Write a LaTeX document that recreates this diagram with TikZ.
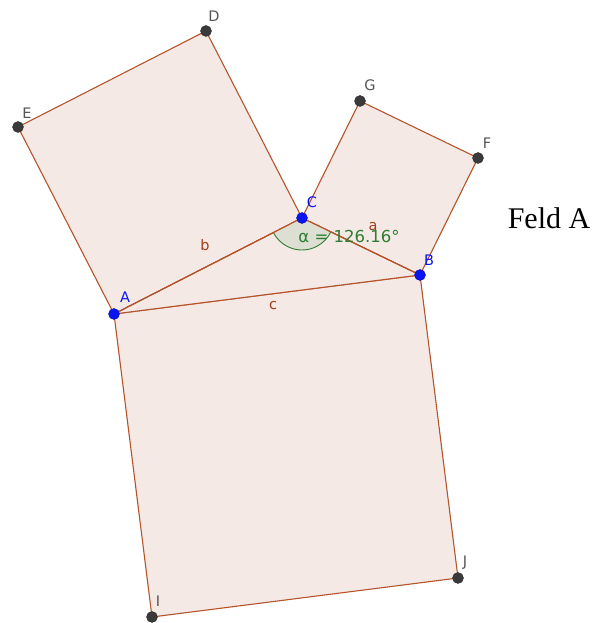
\documentclass[tikz,border=0pt]{standalone}
\usepackage{fontspec}
\setmainfont{Liberation Serif}
\newfontfamily\ggb{DejaVu Sans}
\definecolor{edge}{HTML}{B5542B}
\definecolor{polyfill}{HTML}{F4E9E5}
\definecolor{ptgray}{HTML}{3A3A3A}
\definecolor{ptblue}{HTML}{0A14F0}
\definecolor{lblgray}{HTML}{555555}
\definecolor{anggreen}{HTML}{2E7D32}
\definecolor{angfill}{HTML}{DCDFD2}
\definecolor{seglbl}{HTML}{A0401C}
\begin{document}
\begin{tikzpicture}[x=1pt,y=1pt,
  poly/.style={fill=polyfill,draw=edge,line width=1.1pt,line join=round},
  pt/.style={circle,fill=ptgray,draw=ptgray!70!black,inner sep=0pt,minimum size=11pt},
  bpt/.style={circle,fill=ptblue,draw=ptblue!70!black,inner sep=0pt,minimum size=11pt},
  glbl/.style={font=\ggb\fontsize{14.5}{14.5}\selectfont,text=lblgray,inner sep=0pt},
  blbl/.style={font=\ggb\fontsize{14.5}{14.5}\selectfont,text=ptblue,inner sep=0pt},
  slbl/.style={font=\ggb\fontsize{14.5}{14.5}\selectfont,text=seglbl,inner sep=0pt}]
\useasboundingbox (0,0) rectangle (595,623);
\coordinate (A) at (114,309);
\coordinate (B) at (420,348);
\coordinate (C) at (302,405);
\coordinate (D) at (206,592);
\coordinate (E) at (18,496);
\coordinate (G) at (360,522);
\coordinate (F) at (478,465);
\coordinate (I) at (152,6);
\coordinate (J) at (458,45);
% squares and triangle
\path[poly] (A) -- (C) -- (D) -- (E) -- cycle;
\path[poly] (C) -- (B) -- (F) -- (G) -- cycle;
\path[poly] (A) -- (B) -- (J) -- (I) -- cycle;
\path[poly] (A) -- (B) -- (C) -- cycle;
% angle at C
\fill[angfill] (C) -- ++(207.05:32) arc[start angle=207.05,end angle=334.22,radius=32] -- cycle;
\draw[anggreen,line width=0.9pt] (C) ++(207.05:32) arc[start angle=207.05,end angle=334.22,radius=32];
\draw[edge,line width=1.1pt] (A) -- (C) -- (B);
% labels of segments
\node[slbl] (lb) at (205,378) {b};
\node[slbl] (la) at (373,396) {a};
\node[slbl] (lc) at (273,317) {c};
\node[font=\ggb\fontsize{16.5}{16.5}\selectfont,text=anggreen,inner sep=0pt] (alpha) at (349,386) {α = 126.16°};
% points
\node[pt] (pD) at (D) {};
\node[pt] (pE) at (E) {};
\node[pt] (pG) at (G) {};
\node[pt] (pF) at (F) {};
\node[pt] (pI) at (I) {};
\node[pt] (pJ) at (J) {};
\node[bpt] (pA) at (A) {};
\node[bpt] (pB) at (B) {};
\node[bpt] (pC) at (C) {};
% point labels
\node[glbl] (lD) at (214,607) {D};
\node[glbl] (lE) at (27,510) {E};
\node[glbl] (lG) at (370,538) {G};
\node[glbl] (lF) at (487,480) {F};
\node[glbl] (lI) at (158,22) {I};
\node[glbl] (lJ) at (465,60) {J};
\node[blbl] (lA) at (125,326) {A};
\node[blbl] (lB) at (429,363) {B};
\node[blbl] (lC) at (312,421) {C};
\node[font=\fontsize{30}{30}\selectfont,inner sep=0pt] (feld) at (549,405) {Feld A};
\end{tikzpicture}
\end{document}
